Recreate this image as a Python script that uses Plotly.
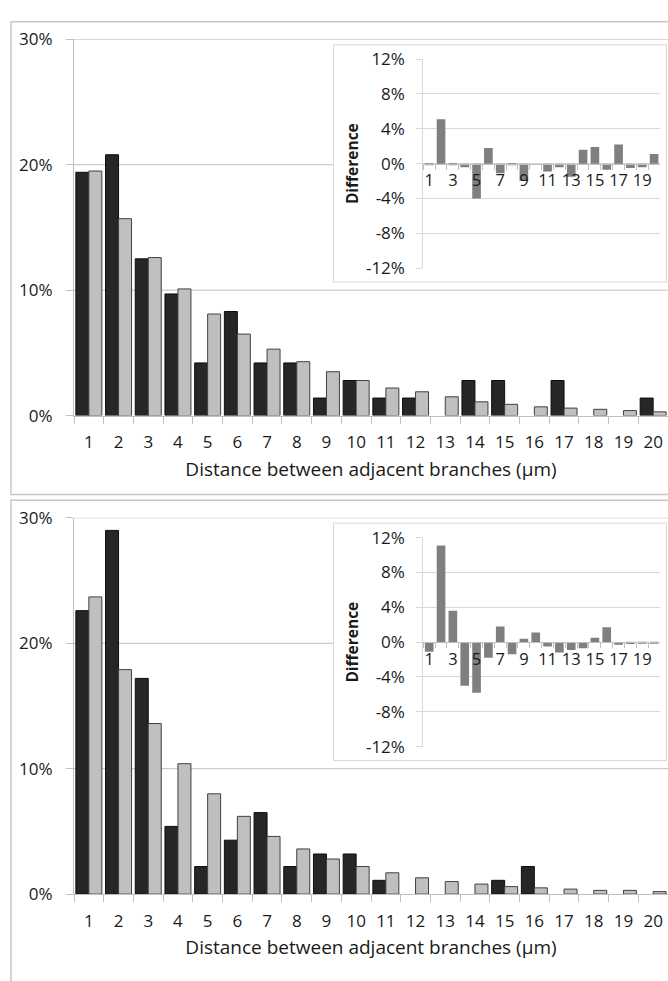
import plotly.graph_objects as go

# Branch spacing distributions (percent of branches per 1 µm bin)
distance_bins = ["1", "2", "3", "4", "5", "6", "7", "8", "9", "10",
                 "11", "12", "13", "14", "15", "16", "17", "18", "19", "20"]
odd_labels = ["1", "", "3", "", "5", "", "7", "", "9", "",
              "11", "", "13", "", "15", "", "17", "", "19", ""]

# upper panel
observed_a = [19.4, 20.8, 12.5, 9.7, 4.2, 8.3, 4.2, 4.2, 1.4, 2.8,
              1.4, 1.4, 0.0, 2.8, 2.8, 0.0, 2.8, 0.0, 0.0, 1.4]
reference_a = [19.5, 15.7, 12.6, 10.1, 8.1, 6.5, 5.3, 4.3, 3.5, 2.8,
               2.2, 1.9, 1.5, 1.1, 0.9, 0.7, 0.6, 0.5, 0.4, 0.3]
difference_a = [-0.1, 5.1, -0.1, -0.4, -4.0, 1.8, -1.1, -0.1, -2.0, 0.0,
                -0.9, -0.4, -1.5, 1.6, 1.9, -0.7, 2.2, -0.5, -0.4, 1.1]

# lower panel
observed_b = [22.6, 29.0, 17.2, 5.4, 2.2, 4.3, 6.5, 2.2, 3.2, 3.2,
              1.1, 0.0, 0.0, 0.0, 1.1, 2.2, 0.0, 0.0, 0.0, 0.0]
reference_b = [23.7, 17.9, 13.6, 10.4, 8.0, 6.2, 4.6, 3.6, 2.8, 2.2,
               1.7, 1.3, 1.0, 0.8, 0.6, 0.5, 0.4, 0.3, 0.3, 0.2]
difference_b = [-1.1, 11.1, 3.6, -5.0, -5.8, -1.8, 1.8, -1.4, 0.4, 1.1,
                -0.5, -1.2, -0.9, -0.7, 0.5, 1.7, -0.3, -0.2, -0.1, -0.1]

main_ticks = [0, 10, 20, 30]
main_tick_text = ["0%", "10%", "20%", "30%"]
inset_ticks = [-12, -8, -4, 0, 4, 8, 12]
inset_tick_text = ["-12%", "-8%", "-4%", "0%", "4%", "8%", "12%"]

W, H = 668, 981
FONT = "Open Sans"
TXT = "#1a1a1a"
AXIS = "#bfbfbf"
LIGHT_AXIS = "#d9d9d9"


def px(x):
    return x / W


def py(y):
    return 1 - y / H


def outline(values):
    # empty bins get no outline so nothing is drawn on the axis
    return [0 if v == 0 else 1 for v in values]


fig = go.Figure()

panels = [
    # (observed, reference, difference, vertical offset in px)
    (observed_a, reference_a, difference_a, 0),
    (observed_b, reference_b, difference_b, 490),
]

shapes = []
for i, (obs, ref, diff, dy) in enumerate(panels):
    n_main = 2 * i + 1
    n_ins = 2 * i + 2
    xm = "x" if n_main == 1 else f"x{n_main}"
    ym = "y" if n_main == 1 else f"y{n_main}"
    xi, yi = f"x{n_ins}", f"y{n_ins}"

    fig.add_trace(go.Bar(x=distance_bins, y=obs, xaxis=xm, yaxis=ym,
                         offset=-0.4375, width=0.4375,
                         marker=dict(color="#262626",
                                     line=dict(color="#0d0d0d", width=outline(obs))),
                         showlegend=False))
    fig.add_trace(go.Bar(x=distance_bins, y=ref, xaxis=xm, yaxis=ym,
                         offset=0.0, width=0.4375,
                         marker=dict(color="#bfbfbf",
                                     line=dict(color="#404040", width=outline(ref))),
                         showlegend=False))
    fig.add_trace(go.Bar(x=distance_bins, y=diff, xaxis=xi, yaxis=yi,
                         offset=-0.365, width=0.73,
                         marker=dict(color="#7f7f7f", line=dict(width=0)),
                         showlegend=False))

    main_x = dict(
        type="category", domain=[px(74), 1], anchor=ym, range=[-0.5, 19.5],
        tickson="boundaries", ticks="outside", ticklen=7, tickcolor=AXIS,
        showline=True, linecolor=AXIS, linewidth=1, showgrid=False, zeroline=False,
        tickangle=0, ticklabelstandoff=11,
        tickfont=dict(family=FONT, size=17, color=TXT),
        title=dict(text="Distance between adjacent branches (µm)",
                   font=dict(family=FONT, size=19, color=TXT), standoff=10),
    )
    main_y = dict(
        domain=[py(413.3 + dy), py(28 + dy)], anchor=xm, range=[0, 30],
        tickmode="array", tickvals=main_ticks, ticktext=main_tick_text,
        ticks="outside", ticklen=7,
        tickcolor=AXIS, showline=True, linecolor=AXIS, linewidth=1,
        showgrid=False, zeroline=False, ticklabelstandoff=10,
        tickfont=dict(family=FONT, size=17, color=TXT),
    )
    inset_x = dict(
        type="category", domain=[px(423.3), px(660)], anchor="free",
        position=py(155.3 + dy), range=[-0.5, 19.5],
        tickmode="array", tickvals=distance_bins, ticktext=odd_labels,
        tickson="boundaries", ticks="outside", ticklen=5, tickcolor=AXIS,
        showline=True, linecolor=AXIS, linewidth=1, showgrid=False, zeroline=False,
        tickangle=0, ticklabelstandoff=2,
        tickfont=dict(family=FONT, size=16.5, color=TXT),
    )
    inset_y = dict(
        domain=[py(262.3 + dy), py(48.3 + dy)], anchor=xi, range=[-12, 12],
        tickmode="array", tickvals=inset_ticks, ticktext=inset_tick_text,
        ticks="outside", ticklen=6,
        tickcolor=LIGHT_AXIS, showline=True, linecolor=LIGHT_AXIS, linewidth=1,
        showgrid=True, gridcolor=LIGHT_AXIS, gridwidth=1, zeroline=False,
        ticklabelstandoff=8,
        tickfont=dict(family=FONT, size=17, color=TXT),
        title=dict(text="<b>Difference</b>", font=dict(family=FONT, size=15.5, color=TXT),
                   standoff=3),
    )
    fig.update_layout(**{
        ("xaxis" if n_main == 1 else f"xaxis{n_main}"): main_x,
        ("yaxis" if n_main == 1 else f"yaxis{n_main}"): main_y,
        f"xaxis{n_ins}": inset_x,
        f"yaxis{n_ins}": inset_y,
    })

    # outer frame of the panel
    shapes.append(dict(type="rect", xref="paper", yref="paper",
                       x0=px(11), x1=px(700), y0=py(494 + dy if i == 0 else 1010), y1=py(10 + dy),
                       line=dict(color="#c8c8c8", width=1.5), fillcolor="rgba(0,0,0,0)",
                       layer="below"))
    # white inset box
    shapes.append(dict(type="rect", xref="paper", yref="paper",
                       x0=px(333.5), x1=px(666.5), y0=py(276.5 + dy), y1=py(33.5 + dy),
                       line=dict(color=LIGHT_AXIS, width=1), fillcolor="white",
                       layer="below"))
    # main gridlines; the 20% line stops at the inset box
    for val, end in [(10, 1.0), (20, (333.5 - 74) / (668 - 74)), (30, 1.0)]:
        shapes.append(dict(type="line", xref=f"{xm} domain", yref=ym,
                           x0=0, x1=end, y0=val, y1=val,
                           line=dict(color=AXIS, width=1), layer="below"))

fig.update_layout(
    width=W, height=H,
    margin=dict(l=0, r=0, t=0, b=0),
    paper_bgcolor="white", plot_bgcolor="rgba(0,0,0,0)",
    barmode="overlay",
    shapes=shapes,
    font=dict(family=FONT, size=16, color=TXT),
)

fig.write_html("out.html")
